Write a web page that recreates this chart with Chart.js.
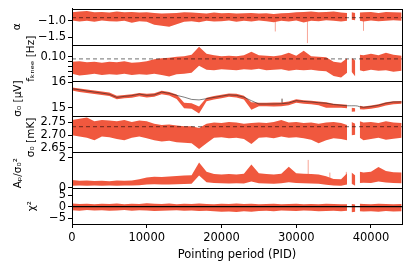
<!DOCTYPE html>
<html>
<head>
<meta charset="utf-8">
<script src="https://cdn.jsdelivr.net/npm/chart.js@4.4.1/dist/chart.umd.min.js"></script>
<style>
html, body { margin: 0; padding: 0; background: #fff; }
#wrap { width: 411px; height: 269px; }
</style>
</head>
<body>
<div id="wrap"><canvas id="chart"></canvas></div>
<script>
// pointing periods (x), gaps are null in the series
const pid = [0,1000,2000,3000,4000,5000,6000,7000,8000,9000,10000,11000,12000,13000,14000,15000,16000,17000,18000,19000,20000,21000,22000,23000,24000,25000,26000,27000,28000,29000,30000,31000,32000,33000,34000,35000,36000,36800,37100,37400,37900,38200,38500,39000,40000,41000,42000,43000,44100];

// alpha
const alphaHi = [-0.74,-0.72,-0.70,-0.74,-0.73,-0.75,-0.72,-0.74,-0.73,-0.75,-0.74,-0.76,-0.78,-0.77,-0.76,-0.74,-0.75,-0.76,-0.78,-0.75,-0.77,-0.76,-0.78,-0.77,-0.76,-0.78,-0.77,-0.79,-0.77,-0.76,-0.74,-0.73,-0.72,-0.74,-0.73,-0.72,-0.75,-0.76,null,-0.74,-0.76,null,-0.75,-0.74,-0.73,-0.76,-0.73,-0.74,-0.75];
const alphaLo = [-0.99,-1.02,-1.00,-1.03,-0.99,-1.01,-1.02,-1.00,-1.06,-1.01,-1.03,-1.12,-1.15,-1.18,-1.10,-1.03,-1.01,-1.04,-1.00,-1.02,-1.01,-0.99,-1.03,-1.00,-1.02,-0.99,-1.01,-1.04,-1.00,-1.02,-0.99,-1.05,-1.00,-1.01,-0.98,-1.00,-1.02,-1.00,null,-0.97,-0.98,null,-1.00,-1.02,-0.99,-1.01,-1.00,-0.98,-1.00];
const alphaSpikePid = [27200, 31500, 39000];
const alphaSpikeLo = [-1.32, -1.67, -1.30];
const alphaSpikeHi = [-0.95, -0.95, -0.95];
const alphaRef = -0.9;
const alphaTicks = [-1.5, -1.0];

// f_knee
const fkHi = [0.090,0.091,0.089,0.090,0.088,0.090,0.089,0.091,0.088,0.089,0.091,0.095,0.097,0.098,0.100,0.101,0.104,0.120,0.106,0.103,0.101,0.102,0.101,0.103,0.110,0.103,0.102,0.101,0.103,0.108,0.102,0.112,0.101,0.100,0.099,0.090,0.088,0.097,null,0.098,0.092,null,0.104,0.103,0.106,0.103,0.108,0.104,0.102];
const fkLo = [0.066,0.062,0.064,0.066,0.063,0.065,0.064,0.066,0.063,0.065,0.064,0.066,0.063,0.060,0.065,0.066,0.068,0.082,0.074,0.073,0.075,0.074,0.073,0.075,0.074,0.076,0.073,0.074,0.075,0.072,0.074,0.073,0.074,0.072,0.071,0.061,0.058,0.068,null,0.070,0.060,null,0.073,0.071,0.074,0.072,0.073,0.070,0.072];
const fkRef = 0.0955;
const fkTicks = [0.06, 0.07, 0.08, 0.09, 0.10];

// sigma0 in uV, with smooth model curve
const sigHi = [15.80,15.76,15.72,15.68,15.64,15.60,15.47,15.50,15.53,15.58,15.55,15.57,15.67,15.62,15.52,15.20,15.18,15.05,15.40,15.46,15.51,15.56,15.55,15.47,15.22,15.20,15.20,15.21,15.21,15.25,15.34,15.30,15.28,15.25,15.22,15.16,15.14,15.12,null,15.00,14.98,null,15.08,15.05,15.09,15.14,15.22,15.26,15.27];
const sigLo = [15.68,15.62,15.58,15.54,15.50,15.46,15.34,15.38,15.40,15.45,15.41,15.43,15.53,15.48,15.35,14.98,14.96,14.78,15.26,15.33,15.38,15.43,15.41,15.33,14.92,15.06,15.06,15.05,15.06,15.10,15.20,15.16,15.14,15.10,15.00,15.00,15.00,14.98,null,14.84,14.85,null,14.94,14.93,14.96,15.01,15.09,15.14,15.16];
const sigFit = [15.75,15.71,15.66,15.62,15.58,15.53,15.41,15.45,15.48,15.54,15.49,15.51,15.62,15.57,15.49,15.42,15.33,15.31,15.36,15.41,15.46,15.51,15.49,15.42,15.28,15.15,15.15,15.15,15.16,15.19,15.28,15.25,15.23,15.20,15.18,15.13,15.10,15.08,15.08,15.08,15.08,15.07,15.04,15.02,15.05,15.10,15.18,15.23,15.23];
const sigSpikePid = [28100];
const sigSpikeLo = [15.20];
const sigSpikeHi = [15.36];
const sigTicks = [15, 16];

// sigma0 in mK
const mkHi = [2.760,2.765,2.770,2.755,2.760,2.758,2.755,2.760,2.752,2.758,2.755,2.745,2.740,2.742,2.738,2.735,2.735,2.728,2.745,2.750,2.748,2.752,2.750,2.745,2.748,2.750,2.748,2.752,2.760,2.750,2.752,2.748,2.750,2.745,2.750,2.752,2.748,2.740,null,2.752,2.745,null,2.755,2.750,2.752,2.748,2.755,2.750,2.748];
const mkLo = [2.700,2.695,2.690,2.680,2.695,2.692,2.685,2.680,2.690,2.695,2.688,2.680,2.675,2.678,2.672,2.670,2.668,2.645,2.668,2.690,2.692,2.688,2.690,2.685,2.665,2.690,2.692,2.688,2.695,2.690,2.692,2.688,2.682,2.668,2.680,2.688,2.685,2.680,null,2.700,2.702,null,2.690,2.680,2.685,2.690,2.682,2.686,2.690];
const mkRef = 2.734;
const mkTicks = [2.65, 2.70, 2.75];

// A_p / sigma0^2
const apHi = [0.50,0.45,0.48,0.44,0.46,0.43,0.47,0.45,0.48,0.55,0.68,0.72,0.70,0.74,0.78,0.80,0.82,1.68,1.05,0.90,0.88,0.90,0.88,0.92,1.55,0.95,0.90,0.88,0.92,1.40,0.95,0.92,0.90,0.88,0.75,0.58,0.55,0.95,null,1.00,0.80,null,1.05,1.00,1.05,1.38,1.10,1.02,1.00];
const apLo = [0.12,0.14,0.12,0.13,0.12,0.13,0.12,0.14,0.13,0.15,0.20,0.22,0.20,0.21,0.22,0.23,0.25,0.80,0.35,0.30,0.28,0.27,0.28,0.27,0.40,0.28,0.27,0.26,0.28,0.35,0.30,0.28,0.27,0.25,0.18,0.14,0.12,0.20,null,0.25,0.12,null,0.30,0.32,0.30,0.40,0.33,0.30,0.28];
const apSpikePid = [31600, 34500, 36700];
const apSpikeLo = [0.5, 0.4, 0.3];
const apSpikeHi = [1.85, 1.0, 1.05];
const apTicks = [0, 2];

// chi^2
const chiHi = [1.4,1.2,1.3,1.1,1.3,1.2,1.4,1.1,1.3,1.2,1.5,1.3,1.2,1.4,1.1,1.3,1.2,1.4,1.2,1.1,1.3,1.2,1.4,1.2,1.3,1.1,1.2,1.3,1.1,1.2,1.3,1.1,1.2,1.1,1.3,1.2,1.1,1.0,null,1.2,0.9,null,1.3,1.2,1.1,1.3,1.2,1.1,1.2];
const chiLo = [-1.6,-1.8,-1.5,-1.7,-1.6,-1.8,-1.7,-1.5,-1.8,-1.6,-1.7,-1.9,-1.8,-1.7,-1.6,-1.8,-1.7,-1.9,-1.8,-2.0,-2.2,-2.1,-2.3,-2.0,-2.2,-1.9,-1.8,-2.0,-1.7,-1.8,-1.9,-1.7,-1.8,-2.0,-1.9,-1.8,-2.0,-1.8,null,-2.4,-2.2,null,-2.0,-2.1,-2.0,-2.2,-1.9,-2.1,-2.0];
const chiRef = 0;
const chiTicks = [-5, 0, 5];

const xTicks = [0, 10000, 20000, 30000, 40000];
const xMin = 0, xMax = 44150;

const RED = 'rgb(240,88,62)';
const RED_LIGHT = 'rgba(240,88,62,0.55)';
const FONT = 'DejaVu Sans';
const minus = s => s.replace('-', '\u2212');

// panels from top to bottom; label: [text, x, y shift]
const panels = [
  { id: 'yA', min: -1.72, max: -0.64, ticks: alphaTicks, fmt: v => minus(v.toFixed(1)), label: ['α', 17, 0] },
  { id: 'yF', min: 0.052, max: 0.124, ticks: fkTicks, fmt: v => (Math.abs(v - 0.1) < 1e-9 ? '0.10' : ''), label: ['fₖₙₑₑ [Hz]', 31, -4] },
  { id: 'yS', min: 14.66, max: 16.07, ticks: sigTicks, fmt: v => v.toFixed(0), label: ['σ₀ [μV]', 18, 0] },
  { id: 'yK', min: 2.632, max: 2.774, ticks: mkTicks, fmt: v => v.toFixed(2), label: ['σ₀ [mK]', 31, 3] },
  { id: 'yP', min: -0.04, max: 2.36, ticks: apTicks, fmt: v => v.toFixed(0), label: ['Aₚ/σ₀²', 18, 3] },
  { id: 'yC', min: -7.6, max: 8.1, ticks: chiTicks, fmt: v => minus(v.toFixed(0)), label: ['χ²', 32, 0] }
];

const pts = arr => pid.map((x, i) => ({ x: x, y: arr[i] }));

function band(yId, hi, lo) {
  return [
    { data: pts(hi), yAxisID: yId, borderWidth: 0, pointRadius: 0, fill: '+1', backgroundColor: RED, order: 5 },
    { data: pts(lo), yAxisID: yId, borderWidth: 0, pointRadius: 0, fill: false, order: 5 }
  ];
}

function spikes(yId, xs, lo, hi, color) {
  const d = [];
  xs.forEach((x, i) => { d.push({ x: x, y: lo[i] }, { x: x, y: hi[i] }, { x: x, y: null }); });
  return { data: d, yAxisID: yId, borderColor: color, borderWidth: 1, pointRadius: 0, fill: false, order: 4 };
}

function refLine(yId, v, color, dash) {
  return { data: [{ x: xMin, y: v }, { x: xMax, y: v }], yAxisID: yId, borderColor: color, borderWidth: 1.3, borderDash: dash, pointRadius: 0, fill: false, order: 1 };
}

const datasets = [
  ...band('yA', alphaHi, alphaLo),
  spikes('yA', alphaSpikePid, alphaSpikeLo, alphaSpikeHi, RED_LIGHT),
  refLine('yA', alphaRef, 'rgba(0,0,0,0.45)', [4, 3]),
  ...band('yF', fkHi, fkLo),
  refLine('yF', fkRef, 'rgba(0,0,0,0.45)', [4, 3]),
  ...band('yS', sigHi, sigLo),
  spikes('yS', sigSpikePid, sigSpikeLo, sigSpikeHi, 'rgba(60,30,20,0.8)'),
  { data: pts(sigFit), yAxisID: 'yS', borderColor: 'rgba(40,40,40,0.6)', borderWidth: 1, pointRadius: 0, fill: false, order: 1 },
  ...band('yK', mkHi, mkLo),
  refLine('yK', mkRef, 'rgba(0,0,0,0.45)', [4, 3]),
  ...band('yP', apHi, apLo),
  spikes('yP', apSpikePid, apSpikeLo, apSpikeHi, RED_LIGHT),
  ...band('yC', chiHi, chiLo),
  refLine('yC', chiRef, '#000', [])
];

const scales = {
  x: {
    type: 'linear', position: 'bottom', min: xMin, max: xMax, offset: false,
    border: { color: '#000', width: 1 },
    grid: { drawOnChartArea: false, drawTicks: true, tickLength: 4, color: '#000' },
    ticks: { color: '#000', font: { family: FONT, size: 11.5 }, padding: 3, maxRotation: 0, autoSkip: false, callback: v => String(v) },
    afterBuildTicks: s => { s.ticks = xTicks.map(v => ({ value: v })); },
    afterFit: s => { s.height = 45; },
    title: { display: true, text: 'Pointing period (PID)', color: '#000', font: { family: FONT, size: 11.5 }, padding: { top: 0, bottom: 7 } }
  }
};
// stacked scales are laid out bottom-up, so add them in reverse
panels.slice().reverse().forEach(p => {
  scales[p.id] = {
    type: 'linear', position: 'left', stack: 'panels', stackWeight: 1,
    min: p.min, max: p.max,
    border: { color: '#000', width: 1 },
    grid: { drawOnChartArea: false, drawTicks: true, tickLength: 4, color: '#000' },
    ticks: { color: '#000', font: { family: FONT, size: 11.5 }, padding: 2, autoSkip: false, maxRotation: 0, callback: v => p.fmt(v) },
    afterBuildTicks: s => { s.ticks = p.ticks.map(v => ({ value: v })); },
    afterFit: s => { s.width = 72; }
  };
});

// panel frames and rotated y labels
const panelDecor = {
  id: 'panelDecor',
  afterDraw(chart) {
    const ctx = chart.ctx;
    const area = chart.chartArea;
    const l = Math.round(area.left), r = Math.round(area.right);
    ctx.save();
    ctx.strokeStyle = '#000';
    ctx.lineWidth = 1;
    panels.forEach(p => {
      const s = chart.scales[p.id];
      const t = Math.round(s.top), b = Math.round(s.bottom);
      ctx.strokeRect(l + 0.5, t + 0.5, r - l, b - t);
    });
    ctx.fillStyle = '#000';
    ctx.font = '10.5px "' + FONT + '"';
    ctx.textAlign = 'center';
    ctx.textBaseline = 'middle';
    panels.forEach(p => {
      const s = chart.scales[p.id];
      const [txt, x, dy] = p.label;
      ctx.save();
      ctx.translate(x, (s.top + s.bottom) / 2 + dy);
      ctx.rotate(-Math.PI / 2);
      ctx.fillText(txt, 0, 0);
      ctx.restore();
    });
    ctx.restore();
  }
};

new Chart(document.getElementById('chart').getContext('2d'), {
  type: 'line',
  data: { datasets: datasets },
  options: {
    responsive: true,
    maintainAspectRatio: false,
    animation: false,
    devicePixelRatio: 1,
    spanGaps: false,
    layout: { padding: { left: 0, right: 9, top: 8, bottom: 0 } },
    elements: { line: { tension: 0 } },
    plugins: { legend: { display: false }, tooltip: { enabled: false } },
    scales: scales
  },
  plugins: [panelDecor]
});
</script>
</body>
</html>
